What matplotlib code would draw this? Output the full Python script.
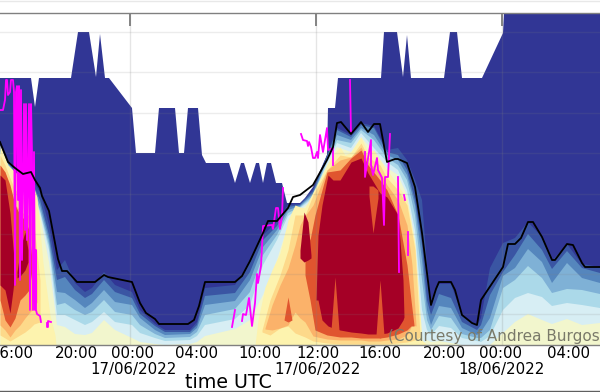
#!/usr/bin/env python3
"""Ceilometer-style time/height section with mixing layer height and cloud base."""

import numpy as np
import matplotlib
matplotlib.use('Agg')
import matplotlib.pyplot as plt
from matplotlib.lines import Line2D

# x = time step along the section, y = range gate (counted from the top of the picture)
Y_BOTTOM = 345
Y_TOP = 13

# outer edge of the data (white above it)
EDGE_X = [0, 31, 35, 39, 71, 78, 89, 96, 100, 105, 109, 132, 136, 155, 159, 175, 179, 184, 188, 198,
          202, 206, 229, 235, 241, 244, 250, 256, 259, 263, 267, 271, 276, 282, 287, 300, 305, 313,
          327, 328, 335, 338, 381, 384, 397, 403, 407, 411, 444, 450, 457, 462, 482, 503, 504, 600]
EDGE_Y = [78, 78, 107, 78, 78, 32, 32, 77, 34, 78, 78, 108, 153, 153, 108, 108, 153, 153, 108, 108,
          155, 163, 163, 183, 163, 163, 183, 163, 163, 183, 163, 163, 183, 183, 203, 203, 198, 187,
          155, 108, 108, 78, 78, 32, 32, 77, 35, 78, 78, 32, 32, 78, 78, 33, 13, 13]

# backscatter levels, shared time steps
LEV_X = [0, 8, 15, 23, 31, 40, 49, 57, 65, 75, 85, 92, 104, 115, 132, 140, 155, 165, 190, 197,
         205, 235, 250, 263, 277, 288, 300, 313, 327, 337, 351, 361, 374, 387, 398, 407, 415, 422,
         427, 431, 439, 451, 462, 477, 481, 490, 503, 515, 528, 542, 552, 567, 582, 600]
LEV1 = [145, 160, 170, 176, 178, 192, 225, 270, 260, 283, 292, 288, 272, 285, 292, 310, 324, 330, 330, 322,
        288, 285, 262, 235, 222, 205, 204, 190, 155, 128, 135, 123, 126, 150, 148, 160, 180, 200,
        265, 300, 284, 284, 315, 325, 318, 268, 243, 238, 222, 237, 261, 244, 264, 267]
LEV2 = [147, 162, 172, 178, 180, 200, 235, 280, 277, 290, 298, 294, 280, 292, 298, 314, 326, 332, 332, 325,
        296, 293, 272, 240, 226, 207, 205, 192, 157, 130, 137, 125, 128, 152, 155, 170, 200, 245,
        300, 315, 294, 298, 322, 330, 325, 295, 272, 255, 234, 250, 269, 251, 268, 273]
LEV3 = [149, 164, 174, 180, 182, 205, 240, 292, 293, 300, 308, 303, 290, 302, 305, 318, 330, 335, 334, 328,
        305, 301, 280, 247, 230, 210, 206, 194, 159, 135, 140, 128, 135, 155, 160, 175, 205, 260,
        310, 325, 306, 308, 328, 335, 332, 318, 276, 268, 249, 262, 283, 263, 278, 283]
LEV4 = [151, 166, 176, 182, 186, 210, 245, 305, 303, 310, 315, 312, 300, 312, 315, 325, 334, 338, 337, 332,
        315, 309, 292, 255, 235, 213, 207, 196, 161, 140, 143, 130, 140, 158, 165, 180, 215, 280,
        320, 330, 316, 318, 334, 338, 338, 330, 288, 280, 266, 278, 293, 289, 290, 294]
LEV5 = [152, 167, 177, 184, 188, 212, 250, 315, 315, 320, 325, 322, 312, 322, 325, 333, 338, 341, 340, 336,
        325, 319, 305, 265, 240, 216, 208, 198, 163, 143, 148, 133, 148, 162, 170, 190, 230, 310,
        330, 335, 326, 328, 338, 341, 342, 336, 310, 298, 293, 297, 306, 303, 305, 308]
LEV6 = [153, 168, 178, 185, 190, 215, 262, 325, 327, 334, 335, 333, 320, 330, 338, 342, 344, 345, 344, 342,
        336, 329, 320, 295, 260, 225, 210, 200, 165, 147, 152, 137, 152, 168, 175, 195, 240, 345,
        340, 342, 341, 343, 345, 345, 345, 345, 333, 322, 314, 320, 324, 319, 325, 323]
LEV_COLORS = ['#3a55a3', '#5586bd', '#7fb1d6', '#abd9e9', '#d7eef4', '#f2f6cd']

# warm lobes: time steps, upper edge, lower edge
L7_X = [0, 8, 15, 23, 31, 37, 43, 50, 55, 56]
L7_TOP = [145, 165, 172, 178, 180, 197, 263, 315, 335, 345]
L7_LOW = [345, 345, 345, 345, 345, 345, 345, 345, 345, 345]
L8_X = [0, 5, 10, 15, 20, 25, 30, 34, 40]
L8_TOP = [155, 165, 178, 190, 193, 200, 200, 225, 280]
L8_LOW = [335, 338, 341, 338, 335, 332, 328, 324, 322]
L9_X = [0, 5, 10, 15, 20, 25, 30, 34, 37]
L9_TOP = [165, 172, 190, 205, 210, 215, 215, 240, 280]
L9_LOW = [325, 330, 337, 330, 325, 318, 312, 308, 302]
L10_X = [0, 5, 10, 15, 20, 25, 29, 32]
L10_TOP = [165, 172, 185, 205, 215, 220, 230, 260]
L10_LOW = [300, 320, 327, 318, 300, 295, 290, 270]
L11_X = [0, 5, 10, 13, 15]
L11_TOP = [175, 180, 213, 247, 270]
L11_LOW = [285, 290, 313, 290, 272]
L11B_X = [17, 21, 25, 28]
L11B_TOP = [272, 245, 232, 250]
L11B_LOW = [278, 275, 270, 262]

C7_X = [255, 258, 265, 272, 280, 288, 295, 300, 305, 313, 327, 333, 340, 345, 351, 361, 368, 374, 380,
        387, 398, 407, 415, 422, 427]
C7_TOP = [345, 320, 287, 270, 253, 220, 205, 207, 208, 192, 165, 155, 147, 155, 152, 137, 153, 150, 160,
          170, 185, 200, 245, 340, 345]
C8_X = [262, 270, 280, 288, 295, 305, 313, 327, 340, 351, 361, 368, 380, 387, 398, 407, 415, 420]
C8_TOP = [330, 300, 275, 250, 215, 215, 195, 170, 155, 157, 143, 157, 165, 178, 190, 205, 250, 335]
C8_LOW = [332, 335, 328, 326, 333, 337, 341, 343, 344, 344, 344, 344, 344, 344, 343, 342, 340, 337]
C9_X = [265, 272, 280, 288, 295, 300, 305, 313, 327, 340, 351, 361, 368, 380, 387, 398, 407, 412, 416]
C9_TOP = [328, 305, 285, 268, 245, 225, 216, 205, 170, 160, 157, 147, 162, 172, 185, 200, 225, 265, 325]
C9_LOW = [329, 330, 328, 325, 312, 318, 322, 336, 339, 340, 340, 340, 341, 341, 340, 339, 335, 325, 326]
C10_X = [305, 310, 315, 327, 340, 351, 361, 368, 380, 387, 398, 407, 411, 414]
C10_TOP = [218, 240, 215, 172, 170, 158, 150, 165, 180, 190, 215, 265, 300, 325]
C10_LOW = [275, 300, 330, 335, 337, 337, 338, 338, 338, 337, 334, 330, 326, 326]
C10B_X = [284, 288, 292]
C10B_TOP = [320, 297, 320]
C10B_LOW = [320, 322, 320]
C11_X = [316, 318, 322, 328, 333, 340, 351, 361, 368, 380, 387, 398, 403, 404]
C11_TOP = [300, 235, 205, 175, 180, 180, 162, 158, 173, 193, 197, 215, 280, 317]
C11_LOW = [300, 300, 320, 326, 328, 330, 332, 333, 334, 334, 333, 328, 320, 317]
C11B_X = [300, 304, 308, 311]
C11B_TOP = [250, 212, 222, 255]
C11B_LOW = [258, 262, 260, 258]
# orange streaks cutting into the red
N1_X = [331, 335, 339]
N1_TOP = [330, 277, 330]
N1_LOW = [332, 334, 332]
N2_X = [376, 380, 384]
N2_TOP = [335, 280, 335]
N2_LOW = [336, 338, 336]
N3_X = [369, 373, 378]
N3_TOP = [186, 186, 190]
N3_LOW = [196, 233, 198]

WARM = '#fdf3ae', '#fdd98a', '#fbb26a', '#e0552f', '#a50026'

# mixing layer height
MLH_X = [0, 8, 15, 23, 31, 35, 40, 42, 49, 58, 62, 67, 77, 95, 104, 108, 132, 140, 146, 155, 159, 188,
         194, 199, 205, 235, 242, 250, 263, 268, 277, 288, 293, 300, 313, 327, 333, 337, 341, 351, 361,
         368, 374, 380, 387, 395, 398, 407, 415, 422, 431, 436, 439, 451, 455, 462, 472, 477, 481, 503,
         508, 515, 521, 528, 533, 542, 552, 555, 567, 573, 582, 585, 600]
MLH_Y = [142, 162, 168, 174, 172, 180, 188, 196, 211, 259, 271, 271, 282, 282, 275, 277, 282, 303, 313,
         319, 324, 324, 320, 306, 282, 282, 276, 261, 233, 221, 221, 208, 197, 195, 185, 160, 147, 123,
         122, 134, 122, 132, 124, 124, 162, 159, 159, 163, 187, 233, 305, 289, 282, 282, 290, 315, 323,
         325, 300, 267, 244, 244, 238, 222, 222, 237, 260, 260, 244, 245, 263, 267, 267]

# cloud base, NaN where there is no detection
CBH_X = [0, 3, 4, 5, 6, 7, 8, 10, 11, 13, 14, 15, 16, 17, 18, 19, 20, 21, 22, 24, 25, 26, 27, 29, 30, 31, 32,
         33, 34, 35, 36, 36, 37, 40, 41, 42, 47, 47, 48, 48, 51, 52,
         232, 235, 236, 242, 243, 246, 249, 252, 255, 257, 258, 261, 263, 272, 273, 276, 278, 280, 282, 283, 284,
         301, 303, 307, 308, 309, 311, 313, 315, 317, 318, 320, 323, 327, 328, 333, 333, 334,
         350, 351, 352,
         365, 365, 371, 371, 373, 377, 378, 382, 384, 385, 388, 390, 391,
         398, 399, 400, 404, 405, 406, 408, 408]
CBH_Y = [110, 110, 105, 100, 80, 80, 95, 92, 80, 80, 92, 285, 92, 86, 200, 86, 280, 90, 260, 104, 230, 104, 240,
         104, 310, 104, 152, 310, 152, 310, 250, 310, 314, 316, 322, np.nan, 323, 327, 327, 321, 322, np.nan,
         327, 310, np.nan, 321, 314, 315, 298, 326, 303, 274, 283, 266, 226, 225, 229, 208, 208, 229, 216, 188, np.nan,
         134, 140, 141, 146, 142, 147, 158, 158, 152, 158, 135, 152, 128, 150, 148, 165, np.nan,
         80, 133, np.nan,
         152, 177, 140, 165, 175, 158, 170, 178, 225, 177, 177, 134, np.nan,
         177, 272, np.nan, 195, 200, np.nan, 232, 255]

HOUR_TICKS = [130, 316, 502]
GRID_Y = [32, 72, 113, 153, 194, 234, 274, 314]
LABEL_X = [11.5, 76, 133, 196.5, 259.5, 317.5, 380, 444, 501, 569]
LABEL_TXT = ['16:00', '20:00', '00:00', '04:00', '10:00', '12:00', '16:00', '20:00', '00:00', '04:00']
DATE_X = [133, 317.5, 501]
DATE_TXT = ['17/06/2022', '17/06/2022', '18/06/2022']


def band(ax, x, top, low, color, z=2):
    ax.fill_between(x, low, top, color=color, linewidth=0, zorder=z)


def main():
    fig = plt.figure(figsize=(6.0, 3.92), dpi=100)
    ax = fig.add_axes([0, (392 - Y_BOTTOM) / 392, 1, (Y_BOTTOM - Y_TOP) / 392])

    band(ax, EDGE_X, EDGE_Y, [Y_BOTTOM] * len(EDGE_X), '#313695', z=1)
    for lev, col in zip([LEV1, LEV2, LEV3, LEV4, LEV5, LEV6], LEV_COLORS):
        band(ax, LEV_X, lev, [Y_BOTTOM] * len(LEV_X), col)

    band(ax, L7_X, L7_TOP, L7_LOW, WARM[0])
    band(ax, L8_X, L8_TOP, L8_LOW, WARM[1])
    band(ax, L9_X, L9_TOP, L9_LOW, WARM[2])
    band(ax, L10_X, L10_TOP, L10_LOW, WARM[3])
    band(ax, L11_X, L11_TOP, L11_LOW, WARM[4])
    band(ax, L11B_X, L11B_TOP, L11B_LOW, WARM[4])

    band(ax, C7_X, C7_TOP, [Y_BOTTOM] * len(C7_X), WARM[0])
    band(ax, C8_X, C8_TOP, C8_LOW, WARM[1])
    band(ax, C9_X, C9_TOP, C9_LOW, WARM[2])
    band(ax, C10_X, C10_TOP, C10_LOW, WARM[3])
    band(ax, C10B_X, C10B_TOP, C10B_LOW, WARM[3])
    band(ax, C11_X, C11_TOP, C11_LOW, WARM[4])
    band(ax, C11B_X, C11B_TOP, C11B_LOW, WARM[4])
    band(ax, N1_X, N1_TOP, N1_LOW, WARM[3])
    band(ax, N2_X, N2_TOP, N2_LOW, WARM[3])
    band(ax, N3_X, N3_TOP, N3_LOW, WARM[3])

    ax.plot(CBH_X, CBH_Y, color='#ff00ff', linewidth=1.3, zorder=4)
    ax.plot(MLH_X, MLH_Y, color='black', linewidth=1.3, zorder=5)

    ax.set_xlim(0, 600)
    ax.set_ylim(Y_BOTTOM, Y_TOP)

    for g in GRID_Y:
        ax.axhline(g, color='#808080', linewidth=1, alpha=0.15, zorder=3)
    for h in HOUR_TICKS:
        ax.axvline(h, color='#808080', linewidth=1, alpha=0.2, zorder=3)

    ax.set_yticks([])
    ax.set_xticks(LABEL_X)
    ax.set_xticklabels(LABEL_TXT, fontsize=10.8)
    ax.tick_params(axis='x', which='major', length=0, pad=0.5)
    ax.set_xticks(HOUR_TICKS, minor=True)
    ax.tick_params(axis='x', which='minor', length=9, width=1.2, color='#707070',
                   direction='in', top=True, bottom=True)

    for side in ['left', 'right']:
        ax.spines[side].set_visible(False)
    for side in ['top', 'bottom']:
        ax.spines[side].set_color('#808080')
        ax.spines[side].set_linewidth(1)
        ax.spines[side].set_zorder(6)

    for dx, dt in zip(DATE_X, DATE_TXT):
        ax.annotate(dt, xy=(dx, 0), xycoords=('data', 'axes fraction'), xytext=(0, -25 / 1.389),
                    textcoords='offset points', fontsize=10.8, ha='center', va='center',
                    annotation_clip=False)

    ax.text(600, 336, '(Courtesy of Andrea Burgos', color='#7a7a6a', fontsize=11,
            ha='right', va='center', zorder=7, clip_on=True)
    fig.text(228 / 600, 1 - 382 / 392, 'time UTC', fontsize=13.7, ha='center', va='center')

    # frame lines of the original page
    fig.add_artist(Line2D([0, 1], [1 - 0.5 / 392] * 2, color='#e8e8e8', linewidth=1))
    fig.add_artist(Line2D([0, 1], [0.8 / 392] * 2, color='#606060', linewidth=1))

    fig.savefig('out.png', dpi=100)


if __name__ == '__main__':
    main()
